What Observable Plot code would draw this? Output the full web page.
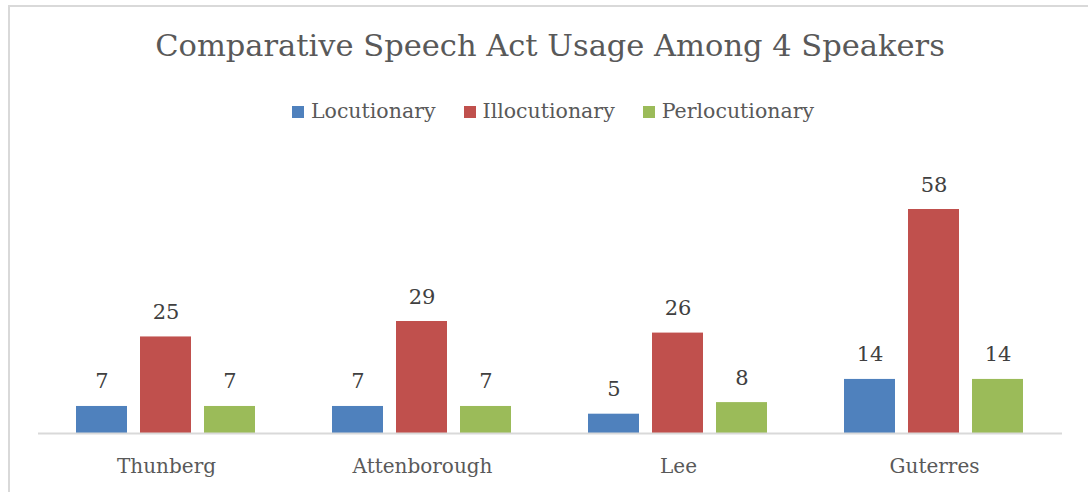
<!DOCTYPE html>
<html>
<head>
<meta charset="utf-8">
<script src="https://cdn.jsdelivr.net/npm/d3@7"></script>
<script src="https://cdn.jsdelivr.net/npm/@observablehq/plot@0.6"></script>
<style>
  html, body { margin: 0; padding: 0; background: #fff; }
  body { width: 1088px; height: 492px; position: relative; overflow: hidden; font-family: "DejaVu Serif", serif; }
  #frame { position: absolute; left: 8px; top: 5px; width: 1200px; height: 600px; border-left: 2px solid #d9d9d9; border-top: 2px solid #d9d9d9; }
  #title { position: absolute; left: 0; width: 1100px; top: 31px; text-align: center; font-size: 30.5px; color: #595959; line-height: 1; white-space: nowrap; }
  #legend { position: absolute; left: 0; width: 1106px; top: 101px; text-align: center; font-size: 20.5px; color: #595959; line-height: 1; white-space: nowrap; }
  #legend span.item { display: inline-block; margin: 0 14px; }
  #legend span.sw { display: inline-block; width: 12px; height: 12px; margin-right: 7px; vertical-align: 0px; }
  #chart { position: absolute; left: 0; top: 0; }
</style>
</head>
<body>
<div id="frame"></div>
<div id="title">Comparative Speech Act Usage Among 4 Speakers</div>
<div id="legend"></div>
<div id="chart"></div>
<script>
const speakers = ["Thunberg", "Attenborough", "Lee", "Guterres"];
const types = ["Locutionary", "Illocutionary", "Perlocutionary"];
const colors = ["#4f81bd", "#c0504d", "#9bbb59"];
const locutionary = [7, 7, 5, 14];
const illocutionary = [25, 29, 26, 58];
const perlocutionary = [7, 7, 8, 14];

const series = [locutionary, illocutionary, perlocutionary];
const data = [];
speakers.forEach((s, i) => {
  types.forEach((t, j) => data.push({speaker: s, type: t, value: series[j][i]}));
});

const legend = document.getElementById("legend");
types.forEach((t, j) => {
  const item = document.createElement("span");
  item.className = "item";
  const sw = document.createElement("span");
  sw.className = "sw";
  sw.style.background = colors[j];
  item.appendChild(sw);
  item.appendChild(document.createTextNode(t));
  legend.appendChild(item);
});

const chart = Plot.plot({
  width: 1088,
  height: 492,
  marginTop: 209,
  marginBottom: 59,
  marginLeft: 38,
  marginRight: 26,
  style: {fontFamily: "DejaVu Serif, serif", background: "transparent", overflow: "visible"},
  fx: {domain: speakers, padding: 0, axis: "bottom", label: null, tickSize: 0, tickPadding: 25},
  x: {domain: types, axis: null, paddingInner: 0.203, paddingOuter: 0.6},
  y: {domain: [0, 58], axis: null},
  color: {domain: types, range: colors},
  marks: [
    Plot.barY(data, {fx: "speaker", x: "type", y: "value", fill: "type"}),
    Plot.ruleY([0], {stroke: "#d9d9d9", strokeWidth: 2}),
    Plot.text(data, {fx: "speaker", x: "type", y: "value", text: d => String(d.value), lineAnchor: "bottom", dy: -18, fontSize: 21, fill: "#404040"})
  ]
});
chart.querySelectorAll("g[aria-label*='fx-axis']").forEach(g => {
  g.setAttribute("font-size", "20");
  g.setAttribute("fill", "#595959");
  g.style.fontSize = "20px";
});
document.getElementById("chart").appendChild(chart);
</script>
</body>
</html>
